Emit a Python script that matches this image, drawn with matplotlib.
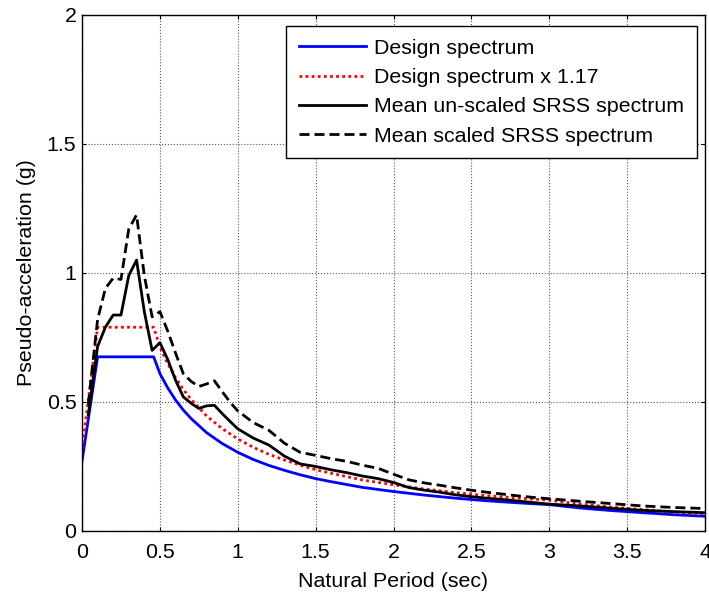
import matplotlib
matplotlib.use("Agg")
import matplotlib.pyplot as plt
import numpy as np

plt.rcParams['font.family'] = ['Liberation Sans', 'DejaVu Sans']

# design spectrum (g) against period (sec)
period_design = [0.0, 0.1, 0.46, 0.5, 0.55, 0.6, 0.65, 0.7, 0.8, 0.9, 1.0, 1.1, 1.2, 1.3,
                 1.4, 1.5, 1.6, 1.8, 2.0, 2.2, 2.4, 2.6, 2.8, 3.0, 3.2, 3.4, 3.6, 3.8, 4.0]
sa_design = [0.27, 0.675, 0.675, 0.61, 0.555, 0.508, 0.469, 0.436, 0.381, 0.339, 0.305,
             0.277, 0.254, 0.235, 0.218, 0.203, 0.191, 0.169, 0.153, 0.139, 0.127, 0.117,
             0.109, 0.102, 0.089, 0.079, 0.071, 0.063, 0.057]
design_factor = 1.17

# mean SRSS spectra of the record set
period_mean = [0.04, 0.1, 0.15, 0.2, 0.25, 0.3, 0.35, 0.4, 0.45, 0.5, 0.55, 0.6, 0.65,
               0.7, 0.75, 0.8, 0.85, 0.9, 0.95, 1.0, 1.1, 1.2, 1.3, 1.4, 1.5, 1.6, 1.7, 1.8,
               1.9, 2.0, 2.1, 2.2, 2.3, 2.4, 2.5, 2.6, 2.7, 2.8, 2.9, 3.0, 3.2, 3.4, 3.6,
               3.8, 4.0]
sa_unscaled = [0.45, 0.715, 0.79, 0.837, 0.837, 0.99, 1.05, 0.85, 0.70, 0.73, 0.665,
               0.585, 0.52, 0.495, 0.475, 0.485, 0.487, 0.455, 0.425, 0.396, 0.36, 0.333,
               0.29, 0.26, 0.25, 0.237, 0.226, 0.213, 0.203, 0.188, 0.168, 0.158, 0.15,
               0.14, 0.133, 0.127, 0.122, 0.116, 0.11, 0.104, 0.097, 0.088, 0.08, 0.075,
               0.071]
sa_scaled = [0.49, 0.82, 0.94, 0.98, 0.975, 1.17, 1.225, 0.99, 0.83, 0.85, 0.775,
             0.69, 0.61, 0.58, 0.56, 0.57, 0.582, 0.54, 0.50, 0.465, 0.42, 0.39, 0.34,
             0.305, 0.293, 0.28, 0.27, 0.255, 0.243, 0.22, 0.198, 0.186, 0.177, 0.167,
             0.158, 0.15, 0.143, 0.136, 0.13, 0.125, 0.115, 0.106, 0.097, 0.091, 0.087]

xticks = [0, 0.5, 1, 1.5, 2, 2.5, 3, 3.5, 4]
xticklabels = ['0', '0.5', '1', '1.5', '2', '2.5', '3', '3.5', '4']
yticks = [0, 0.5, 1, 1.5, 2]
yticklabels = ['0', '0.5', '1', '1.5', '2']

fs = 15.4
fig = plt.figure(figsize=(7.09, 5.95), dpi=100)
ax = fig.add_axes([0.1157, 0.1076, 0.9944 - 0.1157, 0.9748 - 0.1076])

sa_design_x = np.array(sa_design) * design_factor
ax.plot(period_design, sa_design, color='blue', lw=2.0, label='Design spectrum')
ax.plot(period_design, sa_design_x, color='red', lw=2.0, linestyle=(0, (1, 1.2)),
        label='Design spectrum x %.2f' % design_factor)
ax.plot(period_mean, sa_unscaled, color='black', lw=2.0, label='Mean un-scaled SRSS spectrum')
ax.plot(period_mean, sa_scaled, color='black', lw=2.0, linestyle=(0, (3.6, 1.8)),
        label='Mean scaled SRSS spectrum')

ax.set_xlim(0, 4)
ax.set_ylim(0, 2)
ax.set_xticks(xticks)
ax.set_xticklabels(xticklabels)
ax.set_yticks(yticks)
ax.set_yticklabels(yticklabels)
ax.tick_params(direction='in', top=True, right=True, length=3, width=0.8,
               labelsize=fs, pad=4)
ax.tick_params(axis='x', pad=9)
ax.grid(True, color='0.35', linestyle=':', lw=0.8)
for s in ax.spines.values():
    s.set_linewidth(1.0)

ax.set_xlabel('Natural Period (sec)', fontsize=fs, labelpad=7)
ax.set_ylabel('Pseudo-acceleration (g)', fontsize=fs, labelpad=8)

leg = ax.legend(loc='upper right', bbox_to_anchor=(697 / 709, 1 - 26 / 595),
                bbox_transform=fig.transFigure, fontsize=fs, frameon=True,
                fancybox=False, framealpha=1, edgecolor='black', borderpad=0.6,
                labelspacing=0.48, handlelength=3.1, handletextpad=0.4,
                borderaxespad=0)
leg.get_frame().set_linewidth(1.0)

fig.savefig('out.png', dpi=100)
